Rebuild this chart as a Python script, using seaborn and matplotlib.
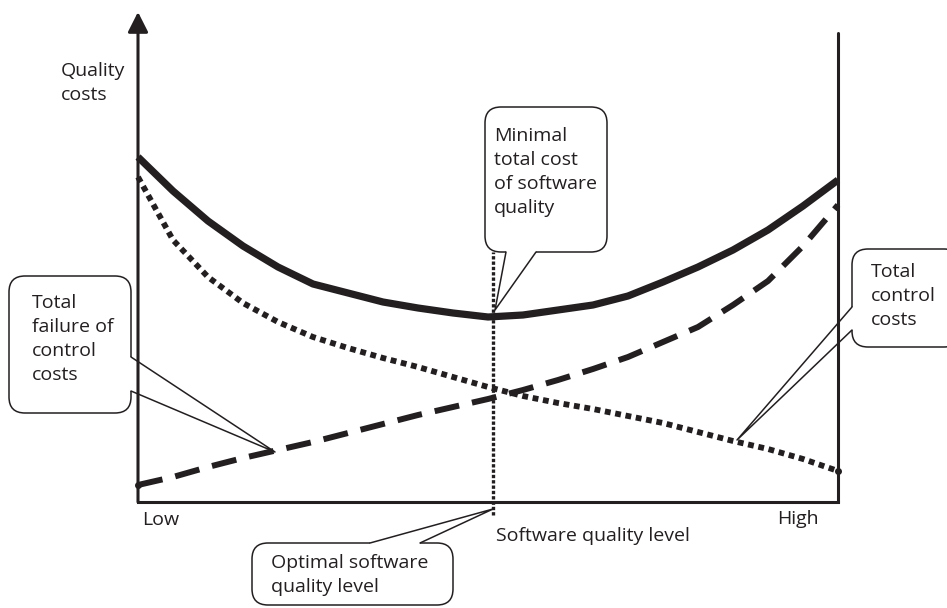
import numpy as np
import pandas as pd
import matplotlib.pyplot as plt
import seaborn as sns
from matplotlib.patches import FancyBboxPatch

# Chart data (arbitrary cost units)
quality = [0, 0.5, 1, 1.5, 2, 2.5, 3, 3.5, 4, 4.5, 5,
           5.5, 6, 6.5, 7, 7.5, 8, 8.5, 9, 9.5, 10]
total_cost = [345, 311, 281, 256, 235, 218, 209, 200, 194, 189, 185,
              187, 192, 197, 206, 220, 235, 252, 272, 296, 322]
control_costs = [17, 25, 35, 44, 52, 60, 69, 78, 87, 95, 103,
                 112, 122, 133, 145, 160, 175, 197, 221, 256, 297]
failure_costs = [325, 262, 225, 199, 180, 165, 154, 144, 135, 125, 115,
                 106, 99, 93, 86, 79, 70, 61, 53, 43, 31]
optimal_level = 5.07
x_labels = ["Low", "High"]

INK = "#231f20"

sns.set_style("white")
plt.rcParams['font.family'] = ['Open Sans', 'DejaVu Sans']

fig = plt.figure(figsize=(9.47, 6.08), dpi=100)
ax = fig.add_axes([138 / 947, 106 / 608, 700 / 947, 490 / 608])
ax.set_xlim(0, 10)
ax.set_ylim(0, 490)
for s in ax.spines.values():
    s.set_visible(False)
ax.set_xticks([])
ax.set_yticks([])

# --------------------------
# Curves
# --------------------------
sns.lineplot(x=quality, y=total_cost, ax=ax, color=INK, lw=5.2,
             solid_capstyle='butt', clip_on=False, errorbar=None)
sns.lineplot(x=quality, y=control_costs, ax=ax, color=INK, lw=4.3,
             linestyle=(0, (4.2, 2.2)), dash_capstyle='butt', clip_on=False, errorbar=None)
sns.lineplot(x=quality, y=failure_costs, ax=ax, color=INK, lw=4.2,
             linestyle=(0, (1, 0.8)), dash_capstyle='butt', clip_on=False, errorbar=None)
ax.plot([quality[0]], [control_costs[0]], 'o', color=INK, ms=4, clip_on=False)
ax.plot([quality[-1]], [failure_costs[-1]], 'o', color=INK, ms=4, clip_on=False)

# Optimal level marker line
ax.vlines(optimal_level, -13, 250, color=INK, lw=2.4, linestyles=(0, (1, 0.6)), clip_on=False)

# --------------------------
# Axes frame
# --------------------------
ax.plot([0, 10], [0, 0], color=INK, lw=2.2, solid_capstyle='projecting', clip_on=False)
ax.plot([10, 10], [0, 469], color=INK, lw=2.2, clip_on=False)
ax.annotate('', xy=(0, 490), xytext=(0, 0),
            arrowprops=dict(arrowstyle='-|>,head_length=0.87,head_width=0.44', lw=2.2,
                            color=INK, shrinkA=0, shrinkB=0, mutation_scale=14),
            annotation_clip=False)

# --------------------------
# Labels and callouts (overlay in pixel units)
# --------------------------
ov = fig.add_axes([0, 0, 1, 1])
ov.set_xlim(0, 947)
ov.set_ylim(608, 0)
ov.axis('off')

fs = 14
ls = 1.42
ov.text(61, 62, "Quality\ncosts", fontsize=fs, color=INK, va='top', linespacing=ls)
ov.text(142, 511, x_labels[0], fontsize=fs, color=INK, va='top')
ov.text(777, 510, x_labels[1], fontsize=fs, color=INK, va='top')
ov.text(496, 527, "Software quality level", fontsize=fs, color=INK, va='top')


def callout(box, base, tip, text, text_pos):
    x0, y0, x1, y1 = box
    ov.add_patch(FancyBboxPatch((x0, y0), x1 - x0, y1 - y0,
                                boxstyle="round,pad=0,rounding_size=16",
                                fc='white', ec=INK, lw=1.1, clip_on=False))
    (bx0, by0), (bx1, by1) = base
    ov.plot([bx0, bx1], [by0, by1], color='white', lw=3, solid_capstyle='butt')
    ov.plot([bx0, tip[0], bx1], [by0, tip[1], by1], color=INK, lw=1.1)
    ov.text(text_pos[0], text_pos[1], text, fontsize=fs, color=INK,
            va='top', linespacing=ls)


callout((9, 276, 131, 413), ((131, 357), (131, 391)), (275, 452),
        "Total\nfailure of\ncontrol\ncosts", (32, 294))
callout((485, 107, 607, 252), ((506, 252), (536, 252)), (495, 310),
        "Minimal\ntotal cost\nof software\nquality", (494, 127))
callout((852, 249, 960, 347), ((852, 307), (852, 330)), (737, 440),
        "Total\ncontrol\ncosts", (871, 263))
callout((252, 543, 453, 605), ((370, 543), (420, 543)), (493, 509),
        "Optimal software\nquality level", (271, 554))

fig.savefig("out.png", dpi=100)
